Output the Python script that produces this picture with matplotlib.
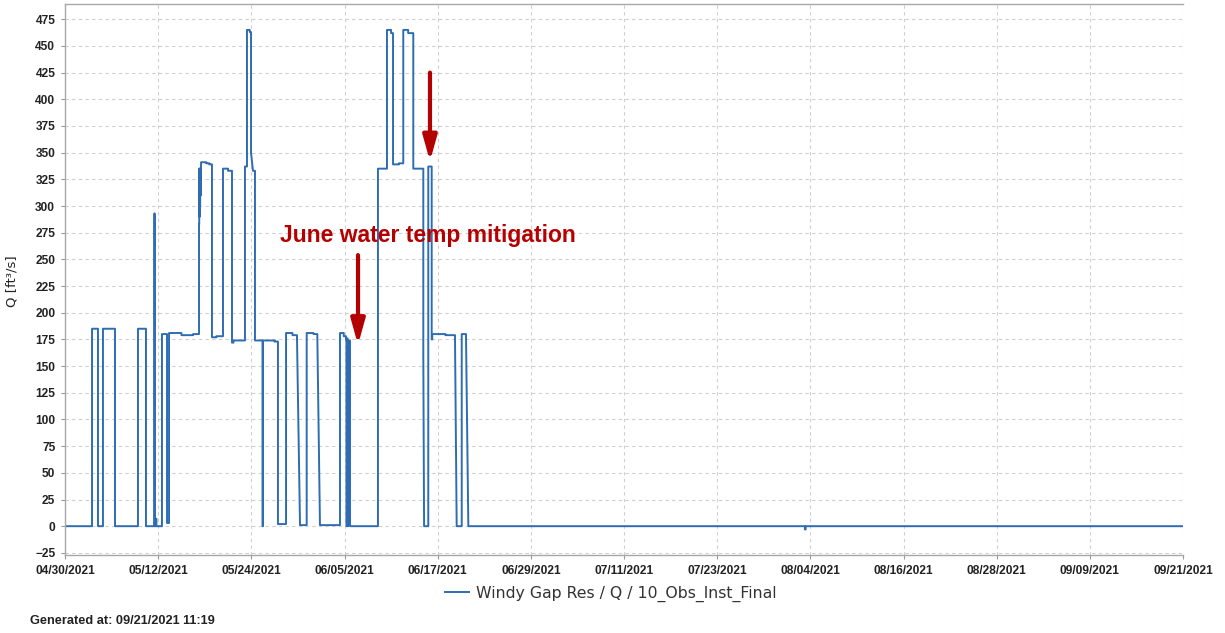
import matplotlib
matplotlib.use("Agg")
import matplotlib.pyplot as plt
import matplotlib.dates as mdates
import matplotlib.ticker as mticker
import pandas as pd

# ---------------- data ----------------
start_date = "2021-04-30"
end_date = "2021-09-21"
# change points: days after 04/30/2021 and flow (ft3/s) from that time on
change_day = [0.00, 3.48, 4.25, 4.89, 6.44, 9.40, 10.43, 11.50, 11.56, 11.72, 11.78,
              12.49, 13.14, 13.40, 15.0, 16.5,
              17.26, 17.29, 17.32, 17.35, 17.38, 17.41, 17.44, 17.52, 18.2, 18.6,
              18.93, 19.5, 20.35, 21.0, 21.51, 21.7,
              23.18, 23.44, 23.8, 23.96, 24.21, 24.47,
              25.44, 25.50, 27.0, 27.43, 28.47, 29.3, 29.88, 30.27,
              31.13, 32.0, 32.50, 32.84,
              35.42, 35.9, 36.19, 36.25, 36.32, 36.40, 36.47, 36.71,
              40.31, 41.47, 42.0, 42.25, 43.0, 43.57, 44.2, 44.86,
              46.15, 46.25, 46.79, 47.23, 47.30, 49.0, 50.23, 50.45,
              51.10, 51.65, 51.95,
              95.30, 95.40, 144.0]
flow_cfs = [0, 185, 0, 185, 0, 185, 0, 293, 0, 7, 0,
            180, 3, 181, 179, 180,
            283, 335, 290, 335, 300, 335, 310, 341, 340, 339,
            177, 178, 335, 333, 172, 174,
            337, 465, 463, 350, 333, 174,
            0, 174, 173, 2, 181, 179, 177, 1,
            181, 180, 178, 1,
            181, 178, 175, 0, 176, 0, 174, 0,
            335, 465, 462, 339, 340, 465, 462, 335,
            160, 0, 337, 175, 180, 179, 178, 0,
            180, 178, 0,
            -3, 0, 0]
# change points reached by a sloping line instead of a vertical jump
ramp_days = [24.21, 30.27, 32.84, 46.25, 50.45, 51.95]

y_ticks = list(range(-25, 476, 25))
series_label = "Windy Gap Res / Q / 10_Obs_Inst_Final"
annotation_text = "June water temp mitigation"
generated_text = "Generated at: 09/21/2021 11:19"
y_label = "Q [ft\u00b3/s]"
# annotation arrows (day, from value, to value)
arrow_day = [37.74, 47.01]
arrow_from = [254, 425]
arrow_to = [170, 342]

# ---------------- build the line vertices ----------------
t0 = pd.Timestamp(start_date)
vx, vy = [], []
for i, (d, v) in enumerate(zip(change_day, flow_cfs)):
    t = t0 + pd.Timedelta(days=d)
    if i > 0 and d not in ramp_days:
        vx.append(t)
        vy.append(vy[-1])
    vx.append(t)
    vy.append(v)

# ---------------- figure ----------------
fig = plt.figure(figsize=(12.25, 6.33), dpi=100)
ax = fig.add_axes([65 / 1225, 1 - 555 / 633, (1183 - 65) / 1225, (555 - 4.3) / 633])

line_color = "#2E6DB3"
ax.plot(vx, vy, color=line_color, lw=1.4, label=series_label)

ax.set_xlim(t0, pd.Timestamp(end_date))
ax.set_ylim(-27, 489)
ax.set_yticks(y_ticks)

ax.xaxis.set_major_locator(mticker.FixedLocator(
    mdates.date2num(pd.date_range(start_date, end_date, freq="12D"))))
ax.xaxis.set_major_formatter(mdates.DateFormatter("%m/%d/%Y"))

for lab in ax.get_xticklabels() + ax.get_yticklabels():
    lab.set_fontfamily("Liberation Sans")
    lab.set_fontweight("bold")
    lab.set_fontsize(8.6)
    lab.set_color("#222222")

ax.tick_params(axis="both", length=3, width=0.8, color="#999999", pad=4)
ax.grid(True, color="#CFCFCF", lw=0.8, ls=(0, (3, 3)))
ax.set_axisbelow(True)
for side in ["left", "bottom", "top"]:
    ax.spines[side].set_color("#A8A8A8")
    ax.spines[side].set_linewidth(1.0)
ax.spines["right"].set_visible(False)

# annotations
ax.text(t0 + pd.Timedelta(days=(280 - 65) / 7.7639), 272, annotation_text,
        color="#B40000", fontsize=16.5, fontweight="bold", family="Liberation Sans",
        va="center", ha="left")
for d, f, to in zip(arrow_day, arrow_from, arrow_to):
    x = t0 + pd.Timedelta(days=d)
    ax.annotate("", xy=(x, to), xytext=(x, f),
                arrowprops=dict(arrowstyle="-|>,head_width=0.35,head_length=1.25",
                                color="#B40000", lw=3, mutation_scale=12,
                                shrinkA=0, shrinkB=0))

# labels outside axes
fig.text(12 / 1225, 1 - 281 / 633, y_label, rotation=90, va="center", ha="center",
         fontsize=9.5, family="DejaVu Sans", color="#222222")
leg = fig.legend(loc="center", bbox_to_anchor=(611 / 1225, 1 - 594 / 633),
                 frameon=False, prop=dict(family="DejaVu Sans", size=11.3),
                 handlelength=1.5, handletextpad=0.5)
for t in leg.get_texts():
    t.set_color("#333333")
fig.text(30 / 1225, 1 - 621 / 633, generated_text, va="center", ha="left",
         fontsize=9.2, fontweight="bold", family="Liberation Sans", color="#222222")

fig.savefig("out.png", dpi=100)
